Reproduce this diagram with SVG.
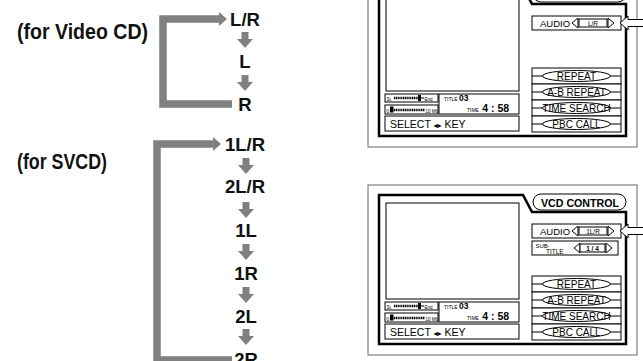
<svg xmlns="http://www.w3.org/2000/svg" width="643" height="361" viewBox="0 0 643 361">
<style>
.lbl{font-family:"Liberation Sans",Arial,sans-serif;font-weight:bold;fill:#111}
.big{font-size:22px}
.opt{font-size:18.5px;text-anchor:middle}
.ga{fill:#808080}
.br{fill:none;stroke:#808080;stroke-width:7.5;stroke-linejoin:miter}
.outer{fill:#fff;stroke:#666;stroke-width:1}
.thick{fill:none;stroke:#000;stroke-width:2.5}
.thin{fill:#fff;stroke:#000;stroke-width:1}
.ln{stroke:#000;stroke-width:1;fill:none}
.t{font-family:"Liberation Sans",Arial,sans-serif;fill:#000}
.tb{font-family:"Liberation Sans",Arial,sans-serif;fill:#000;font-weight:bold}
.btn{font-size:10px;text-anchor:middle}
.dots{stroke:#000;stroke-width:2.5;stroke-dasharray:1.2 0.6;fill:none}
</style>
<defs>
<g id="darrow"><rect x="-3.5" y="0" width="7" height="7" class="ga"/><polygon points="-8,7 8,7 0,16" class="ga"/></g>
</defs>

<g id="connectors">
  <path class="br" d="M232 104 H163 V19 H220"/>
  <polygon class="ga" points="219,12 227,19 219,26"/>
  <use href="#darrow" x="245" y="32"/>
  <use href="#darrow" x="245" y="75"/>
  <path class="br" d="M232 360 H157 V144 H214"/>
  <polygon class="ga" points="213,137 221,144 213,151"/>
  <use href="#darrow" x="246" y="158"/>
  <use href="#darrow" x="246" y="202"/>
  <use href="#darrow" x="246" y="244"/>
  <use href="#darrow" x="246" y="287"/>
  <use href="#darrow" x="246" y="329"/>
</g>

<g id="label-videocd"><text class="lbl big" x="17" y="39" textLength="131" lengthAdjust="spacingAndGlyphs">(for Video CD)</text></g>
<g id="label-svcd"><text class="lbl big" x="17" y="169" textLength="90" lengthAdjust="spacingAndGlyphs">(for SVCD)</text></g>

<g id="vcd-lr"><text class="lbl opt" x="245" y="26">L/R</text></g>
<g id="vcd-l"><text class="lbl opt" x="245" y="68">L</text></g>
<g id="vcd-r"><text class="lbl opt" x="245" y="111">R</text></g>

<g id="svcd-1lr"><text class="lbl opt" x="245" y="151">1L/R</text></g>
<g id="svcd-2lr"><text class="lbl opt" x="245" y="193">2L/R</text></g>
<g id="svcd-1l"><text class="lbl opt" x="246" y="237">1L</text></g>
<g id="svcd-1r"><text class="lbl opt" x="246" y="280">1R</text></g>
<g id="svcd-2l"><text class="lbl opt" x="246" y="323">2L</text></g>
<g id="svcd-2r"><text class="lbl opt" x="246" y="366">2R</text></g>

<!-- top screen (Video CD) -->
<g id="screen-videocd" transform="translate(0,-208)">
  <rect class="outer" x="368" y="185" width="269" height="170"/>
  <path class="thick" d="M379 344 V195 H523 L532 212 H626 V344 Z"/>
  <rect class="thin" x="533" y="194" width="93" height="16" rx="8"/>
  <rect class="thin" x="386" y="203" width="133" height="96"/>
  <rect class="thin" x="385" y="302" width="53" height="8"/>
  <text class="t" x="386.5" y="308.5" font-size="4.5">St.</text>
  <line class="dots" x1="394" y1="306" x2="418" y2="306"/>
  <rect x="418" y="303" width="3" height="6" fill="#000"/>
  <line class="ln" x1="421" y1="306" x2="424" y2="306"/>
  <text class="t" x="424.5" y="308.5" font-size="4.5">End</text>
  <rect class="thin" x="385" y="313" width="53" height="9"/>
  <text class="t" x="386.5" y="320.5" font-size="5">0</text>
  <rect x="390" y="314.5" width="3.5" height="6" fill="#000"/>
  <line class="dots" x1="394" y1="318" x2="425" y2="318"/>
  <text class="t" x="425.5" y="320.5" font-size="4.5">10 Mb</text>
  <rect class="thin" x="439" y="302" width="80" height="20"/>
  <text class="t" x="444" y="309" font-size="5">TITLE <tspan class="tb" font-size="8.5">03</tspan></text>
  <text class="t" x="467" y="320" font-size="5">TIME <tspan class="tb" font-size="10.5" dx="2">4 : 58</tspan></text>
  <rect class="thin" x="385" y="324" width="134" height="15"/>
  <text class="t" x="390" y="336" font-size="10.5">SELECT <tspan font-family="DejaVu Sans" font-size="8">◂▸</tspan> KEY</text>
  <rect class="thin" x="532" y="224" width="89" height="14"/>
  <text class="t" x="540" y="235" font-size="9.5">AUDIO</text>
  <polygon class="thin" points="578,226 572,231 578,236"/>
  <rect class="thin" x="579" y="227" width="28" height="8"/>
  <text class="t" x="593" y="233.5" font-size="6.5" text-anchor="middle">L/R</text>
  <polygon class="thin" points="608,226 614,231 608,236"/>
  <polygon class="thin" points="620,231 628,224 628,227.5 646,227.5 646,234.5 628,234.5 628,238"/>
  <g>
    <rect class="thin" x="532" y="276" width="89" height="16"/>
    <line class="ln" x1="532" y1="284" x2="621" y2="284"/>
    <ellipse class="thin" cx="576.5" cy="284" rx="34" ry="5.5"/>
    <text class="t btn" x="576.5" y="287.5">REPEAT</text>
    <rect class="thin" x="532" y="292" width="89" height="16"/>
    <line class="ln" x1="532" y1="300" x2="621" y2="300"/>
    <ellipse class="thin" cx="576.5" cy="300" rx="34" ry="5.5"/>
    <text class="t btn" x="576.5" y="303.5">A-B REPEAT</text>
    <rect class="thin" x="532" y="308" width="89" height="16"/>
    <line class="ln" x1="532" y1="316" x2="621" y2="316"/>
    <ellipse class="thin" cx="576.5" cy="316" rx="34" ry="5.5"/>
    <text class="t btn" x="576.5" y="319.5">TIME SEARCH</text>
    <rect class="thin" x="532" y="324" width="89" height="16"/>
    <line class="ln" x1="532" y1="332" x2="621" y2="332"/>
    <ellipse class="thin" cx="576.5" cy="332" rx="34" ry="5.5"/>
    <text class="t btn" x="576.5" y="335.5">PBC CALL</text>
  </g>
</g>

<!-- bottom screen (SVCD) -->
<g id="screen-svcd">
  <rect class="outer" x="368" y="185" width="269" height="170"/>
  <path class="thick" d="M379 344 V195 H523 L532 212 H626 V344 Z"/>
  <rect class="thin" x="533" y="194" width="93" height="16" rx="8"/>
  <text class="tb" x="580" y="206.5" font-size="11" text-anchor="middle" textLength="78" lengthAdjust="spacingAndGlyphs">VCD CONTROL</text>
  <rect class="thin" x="386" y="203" width="133" height="96"/>
  <rect class="thin" x="385" y="302" width="53" height="8"/>
  <text class="t" x="386.5" y="308.5" font-size="4.5">St.</text>
  <line class="dots" x1="394" y1="306" x2="418" y2="306"/>
  <rect x="418" y="303" width="3" height="6" fill="#000"/>
  <line class="ln" x1="421" y1="306" x2="424" y2="306"/>
  <text class="t" x="424.5" y="308.5" font-size="4.5">End</text>
  <rect class="thin" x="385" y="313" width="53" height="9"/>
  <text class="t" x="386.5" y="320.5" font-size="5">0</text>
  <rect x="390" y="314.5" width="3.5" height="6" fill="#000"/>
  <line class="dots" x1="394" y1="318" x2="425" y2="318"/>
  <text class="t" x="425.5" y="320.5" font-size="4.5">10 Mb</text>
  <rect class="thin" x="439" y="302" width="80" height="20"/>
  <text class="t" x="444" y="309" font-size="5">TITLE <tspan class="tb" font-size="8.5">03</tspan></text>
  <text class="t" x="467" y="320" font-size="5">TIME <tspan class="tb" font-size="10.5" dx="2">4 : 58</tspan></text>
  <rect class="thin" x="385" y="324" width="134" height="15"/>
  <text class="t" x="390" y="336" font-size="10.5">SELECT <tspan font-family="DejaVu Sans" font-size="8">◂▸</tspan> KEY</text>
  <rect class="thin" x="532" y="224" width="89" height="14"/>
  <text class="t" x="540" y="235" font-size="9.5">AUDIO</text>
  <polygon class="thin" points="578,226 572,231 578,236"/>
  <rect class="thin" x="579" y="227" width="28" height="8"/>
  <text class="t" x="593" y="233.5" font-size="6.5" text-anchor="middle">1L/R</text>
  <polygon class="thin" points="608,226 614,231 608,236"/>
  <polygon class="thin" points="620,231 628,224 628,227.5 646,227.5 646,234.5 628,234.5 628,238"/>
  <rect class="thin" x="532" y="241" width="86" height="14" stroke="#444"/>
  <text class="t" x="535.5" y="247.5" font-size="6">SUB-</text>
  <text class="t" x="546" y="253.5" font-size="6.5">TITLE</text>
  <polygon class="thin" points="580,243 574,248 580,253"/>
  <rect class="thin" x="580" y="244" width="25" height="8"/>
  <text class="tb" x="592.5" y="250.5" font-size="6.5" text-anchor="middle">1 / 4</text>
  <polygon class="thin" points="606,243 612,248 606,253"/>
  <g>
    <rect class="thin" x="532" y="276" width="89" height="16"/>
    <line class="ln" x1="532" y1="284" x2="621" y2="284"/>
    <ellipse class="thin" cx="576.5" cy="284" rx="34" ry="5.5"/>
    <text class="t btn" x="576.5" y="287.5">REPEAT</text>
    <rect class="thin" x="532" y="292" width="89" height="16"/>
    <line class="ln" x1="532" y1="300" x2="621" y2="300"/>
    <ellipse class="thin" cx="576.5" cy="300" rx="34" ry="5.5"/>
    <text class="t btn" x="576.5" y="303.5">A-B REPEAT</text>
    <rect class="thin" x="532" y="308" width="89" height="16"/>
    <line class="ln" x1="532" y1="316" x2="621" y2="316"/>
    <ellipse class="thin" cx="576.5" cy="316" rx="34" ry="5.5"/>
    <text class="t btn" x="576.5" y="319.5">TIME SEARCH</text>
    <rect class="thin" x="532" y="324" width="89" height="16"/>
    <line class="ln" x1="532" y1="332" x2="621" y2="332"/>
    <ellipse class="thin" cx="576.5" cy="332" rx="34" ry="5.5"/>
    <text class="t btn" x="576.5" y="335.5">PBC CALL</text>
  </g>
</g>
</svg>
